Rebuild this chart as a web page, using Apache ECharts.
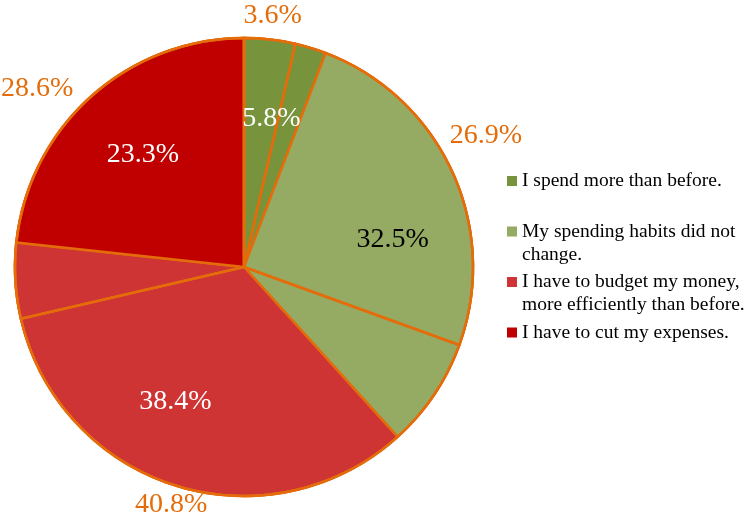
<!DOCTYPE html>
<html>
<head>
<meta charset="utf-8">
<script src="https://cdn.jsdelivr.net/npm/echarts@6/dist/echarts.min.js"></script>
<style>html,body{margin:0;padding:0;background:#fff}#c{width:744px;height:520px}</style>
</head>
<body>
<div id="c"></div>
<script>
var categories = [
  'I spend more than before.',
  'My spending habits did not change.',
  'I have to budget my money, more efficiently than before.',
  'I have to cut my expenses.'
];
var legendLabels = [
  'I spend more than before.\n ',
  'My spending habits did not\nchange.',
  'I have to budget my money,\nmore efficiently than before.',
  'I have to cut my expenses.\n '
];
var outerValues = [3.6, 26.9, 40.8, 28.6];
var innerValues = [5.8, 32.5, 38.4, 23.3];

var colors = ['#77933C', '#95AB63', '#CF3434', '#C00000'];
var borderColor = '#E46C0A';
var font = 'Liberation Serif';
var cx = 244, cy = 267;
var R = 229;
var W = 744, H = 520;

function mkData(vals) {
  return vals.map(function (v, i) { return { name: categories[i], value: v }; });
}
function dirOf(p) {
  var r = p.labelRect;
  var lx = r.x + r.width / 2, ly = r.y + r.height / 2;
  var dx = lx - cx, dy = ly - cy;
  var len = Math.sqrt(dx * dx + dy * dy) || 1;
  return { ux: dx / len, uy: dy / len, w: r.width / 2, h: r.height / 2 };
}
// distance from pie centre to the nearest point of a label box
function boxDist(bx, by, w, h) {
  var nx = Math.max(bx - w, Math.min(cx, bx + w));
  var ny = Math.max(by - h, Math.min(cy, by + h));
  return Math.sqrt((nx - cx) * (nx - cx) + (ny - cy) * (ny - cy));
}
function search(fn, need) {
  var lo = 0, hi = 800, mid;
  for (var i = 0; i < 40; i++) {
    mid = (lo + hi) / 2;
    if (fn(mid) >= need) hi = mid; else lo = mid;
  }
  return hi;
}
// outside-end placement: label box just clears the pie edge, kept inside the canvas
function outsideEnd(p) {
  var d = dirOf(p), m = 1;
  var t = search(function (s) { return boxDist(cx + d.ux * s, cy + d.uy * s, d.w, d.h); }, R + 8);
  var x = cx + d.ux * t, y = cy + d.uy * t;
  if (x - d.w < m || x + d.w > W - m) {
    x = Math.min(Math.max(x, d.w + m), W - d.w - m);
    var sy = d.uy < 0 ? -1 : 1;
    y = cy + sy * search(function (s) { return boxDist(x, cy + sy * s, d.w, d.h); }, R + 8);
  }
  if (y - d.h < m || y + d.h > H - m) {
    y = Math.min(Math.max(y, d.h + m), H - d.h - m);
    var sx = d.ux < 0 ? -1 : 1;
    x = cx + sx * search(function (s) { return boxDist(cx + sx * s, y, d.w, d.h); }, R - 2);
  }
  return { x: x, y: y, align: 'center', verticalAlign: 'middle' };
}
function insideMid(p) {
  var d = dirOf(p);
  var dist = R * 0.66;
  return { x: cx + d.ux * dist, y: cy + d.uy * dist, align: 'center', verticalAlign: 'middle' };
}

// legend icon: square aligned with first text line inside a 2-line-high box
var iconPath = 'path://M0,0h0.01v0.01h-0.01z M0,6.5h10v10h-10z M0,46h0.01v0.01h-0.01z';

var chart = echarts.init(document.getElementById('c'), null, { renderer: 'canvas' });
chart.setOption({
  animation: false,
  color: colors,
  legend: {
    orient: 'vertical',
    left: 507,
    top: 169.5,
    padding: 0,
    itemGap: 4.5,
    itemWidth: 10,
    itemHeight: 46,
    icon: iconPath,
    selectedMode: false,
    itemStyle: { borderWidth: 0 },
    data: categories,
    formatter: function (name) { return legendLabels[categories.indexOf(name)]; },
    textStyle: { fontFamily: font, fontSize: 19.5, lineHeight: 23, color: '#000' }
  },
  series: [
    {
      type: 'pie', center: [cx, cy], radius: [0, R], startAngle: 90, clockwise: true,
      silent: true, data: mkData(outerValues),
      itemStyle: { borderColor: borderColor, borderWidth: 2.5 },
      label: { show: true, position: 'inside', formatter: '{c}%', color: borderColor, fontFamily: font, fontSize: 28 },
      labelLine: { show: false },
      labelLayout: outsideEnd
    },
    {
      type: 'pie', center: [cx, cy], radius: [0, R], startAngle: 90, clockwise: true,
      silent: true,
      data: innerValues.map(function (v, i) {
        return { name: categories[i], value: v, label: { color: i === 1 ? '#000' : '#fff' } };
      }),
      itemStyle: { borderColor: borderColor, borderWidth: 2.5 },
      label: { show: true, position: 'inside', formatter: '{c}%', fontFamily: font, fontSize: 28 },
      labelLine: { show: false },
      labelLayout: insideMid
    },
    {
      type: 'pie', center: [cx, cy], radius: [0, R], startAngle: 90, clockwise: true,
      silent: true, data: mkData(outerValues),
      itemStyle: { color: 'rgba(0,0,0,0)', borderColor: borderColor, borderWidth: 2.5 },
      label: { show: false }, labelLine: { show: false }
    }
  ]
});
</script>
</body>
</html>
